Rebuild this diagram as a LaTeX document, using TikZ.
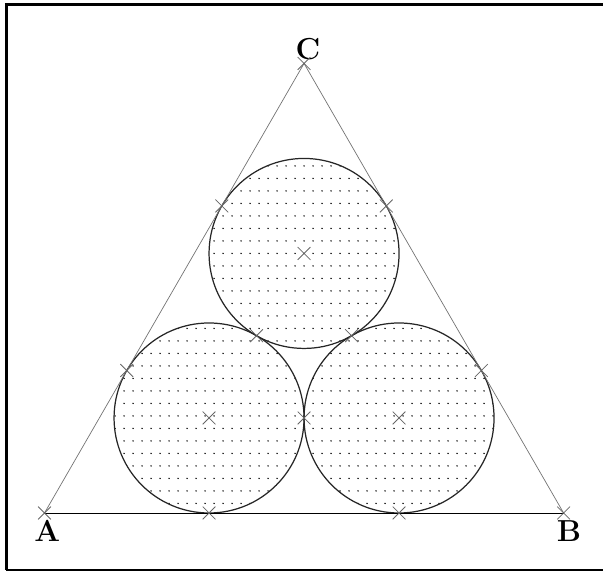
\documentclass[tikz,border=0pt]{standalone}
\usepackage{tikz}
\usetikzlibrary{positioning, calc, shapes.misc}
\tikzset{
  side/.style={draw=black!55, line width=0.4pt},
  base/.style={draw=black, line width=0.45pt},
  ball/.style={draw=black!85, line width=0.7pt},
  crs/.style={cross out, draw=black!60, line width=0.45pt,
              minimum size=0.24cm, inner sep=0pt},
  lbl/.style={font=\LARGE\bfseries, inner sep=1pt},
  frm/.style={line width=1.7pt},
}
\newcommand{\rad}{1.9}

\begin{document}
\begin{tikzpicture}
  \useasboundingbox (-0.89,-1.18) rectangle (11.17,10.26);
  \draw[frm] (-0.76,-1.14) -- (-0.76,10.19);
  \draw[frm] (-0.79,10.17) -- (11.3,10.17);
  \draw[line width=0.6pt] (-0.76,-1.14) -- (11.3,-1.14);

  \coordinate (A) at (0,0);
  \coordinate (B) at (10.382,0);
  \coordinate (C) at (5.191,8.991);
  \coordinate (O1) at (3.291,1.9);
  \coordinate (O2) at (7.091,1.9);
  \coordinate (O3) at (5.191,5.191);

  % dotted filling of the three circles
  \begin{scope}
    \clip (O1) circle (\rad) (O2) circle (\rad) (O3) circle (\rad);
    \foreach \i in {-22,...,22}
      \foreach \j in {-22,...,8}
        \fill ($(O3)+(\i*0.18,\j*0.25)$) circle (0.016);
  \end{scope}

  \draw[ball] (O1) circle (\rad);
  \draw[ball] (O2) circle (\rad);
  \draw[ball] (O3) circle (\rad);

  \draw[side] (A) -- (C) -- (B);
  \draw[base] (A) -- (B);

  \node[lbl, below right=3pt and -7pt of A] (la) {A};
  \node[lbl, below right=3pt and -5pt of B] (lb) {B};
  \node[lbl, above right=1pt and -6pt of C] (lc) {C};

  \node[crs] (xA) at (A) {};
  \node[crs] (xB) at (B) {};
  \node[crs] (xC) at (C) {};
  \node[crs] (x1) at (O1) {};
  \node[crs] (x2) at (O2) {};
  \node[crs] (x3) at (O3) {};
  \node[crs] (t1) at ($(O1)+(270:\rad)$) {};
  \node[crs] (t2) at ($(O2)+(270:\rad)$) {};
  \node[crs] (t3) at ($(O1)+(150:\rad)$) {};
  \node[crs] (t4) at ($(O3)+(150:\rad)$) {};
  \node[crs] (t5) at ($(O2)+(30:\rad)$) {};
  \node[crs] (t6) at ($(O3)+(30:\rad)$) {};
  \node[crs] (t7) at ($(O1)!0.5!(O2)$) {};
  \node[crs] (t8) at ($(O1)!0.5!(O3)$) {};
  \node[crs] (t9) at ($(O2)!0.5!(O3)$) {};
\end{tikzpicture}
\end{document}
